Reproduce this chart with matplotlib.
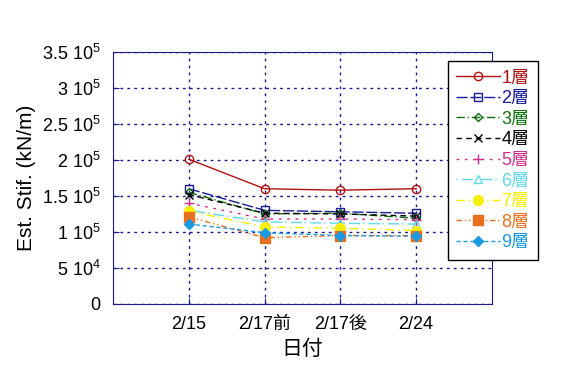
import matplotlib.pyplot as plt
import numpy as np

plt.rcParams['font.family'] = ['Liberation Sans', 'Noto Sans CJK JP']
plt.rcParams['mathtext.fontset'] = 'custom'
plt.rcParams['mathtext.rm'] = 'Liberation Sans'

dates = ["2/15", "2/17前", "2/17後", "2/24"]
layers = ["1層", "2層", "3層", "4層", "5層", "6層", "7層", "8層", "9層"]
stif = [
    [2.01e5, 1.60e5, 1.58e5, 1.60e5],
    [1.60e5, 1.30e5, 1.28e5, 1.26e5],
    [1.55e5, 1.25e5, 1.26e5, 1.19e5],
    [1.52e5, 1.26e5, 1.25e5, 1.22e5],
    [1.40e5, 1.18e5, 1.18e5, 1.17e5],
    [1.30e5, 1.14e5, 1.12e5, 1.11e5],
    [1.29e5, 1.07e5, 1.05e5, 1.02e5],
    [1.21e5, 0.92e5, 0.95e5, 0.95e5],
    [1.11e5, 0.99e5, 0.95e5, 0.94e5],
]
yticks = [0, 5e4, 1e5, 1.5e5, 2e5, 2.5e5, 3e5, 3.5e5]
ytick_labels = ["0", "5 $10^4$", "1 $10^5$", "1.5 $10^5$", "2 $10^5$",
                "2.5 $10^5$", "3 $10^5$", "3.5 $10^5$"]

colors = ["#b01010", "#1a1a9a", "#107010", "#000000", "#d0308a",
          "#60d8ec", "#f5f000", "#e8701c", "#1a9ae0"]
styles = ["-", (0, (8, 2)), (0, (6, 2, 1, 2)), (0, (4, 3)), (0, (2, 4)),
          (0, (1, 3, 8, 2)), (0, (6, 3, 1, 3)), (0, (4, 2, 1, 2, 1, 2)), (0, (3, 2))]
markers = ["o", "s", "D", "x", "+", "^", "o", "s", "D"]
filled = [False, False, False, True, True, False, True, True, True]
msizes = [6, 6, 4, 6, 7, 6, 7, 7, 5]

fig = plt.figure(figsize=(5.68, 3.79), dpi=100)
ax = fig.add_axes((0.199, 0.198, 0.667, 0.665))

x = np.arange(1, len(dates) + 1)
for i in range(len(layers)):
    ax.plot(x, stif[i], color=colors[i], linestyle=styles[i], linewidth=1,
            marker=markers[i], markersize=msizes[i],
            markerfacecolor=colors[i] if filled[i] else "none",
            markeredgecolor=colors[i], label=layers[i])

ax.set_xlim(0, 5)
ax.set_ylim(0, 3.5e5)
ax.set_xticks(x)
ax.set_xticklabels(dates, fontsize=13)
ax.set_yticks(yticks)
ax.set_yticklabels(ytick_labels, fontsize=13)
ax.tick_params(direction="in", length=4, color="#1a1a8a", pad=9)
ax.grid(True, color="#1a1a8a", linestyle=(0, (2, 3)), linewidth=1)
for s in ax.spines.values():
    s.set_color("#1a1a8a")
ax.set_ylabel("Est. Stif. (kN/m)", fontsize=15, labelpad=4)
ax.set_xlabel("日付", fontsize=15, labelpad=4)

leg = fig.legend(loc="upper left", bbox_to_anchor=(0.789, 0.838), fontsize=13,
                 labelspacing=0.2, handlelength=2.4, handletextpad=0.1,
                 borderpad=0.45, fancybox=False, edgecolor="black",
                 framealpha=1, borderaxespad=0)
leg.get_frame().set_linewidth(1)
for t, c in zip(leg.get_texts(), colors):
    t.set_color(c)

fig.savefig("out.png", dpi=100)
